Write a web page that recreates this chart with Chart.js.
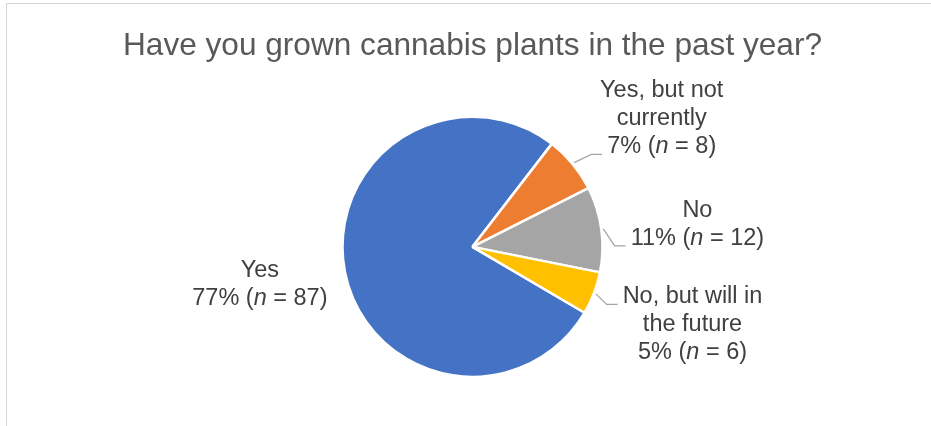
<!DOCTYPE html>
<html>
<head>
<meta charset="utf-8">
<script src="https://cdn.jsdelivr.net/npm/chart.js@4/dist/chart.umd.min.js"></script>
<style>
    html, body {
        margin: 0;
        padding: 0;
        background: #ffffff;
        overflow: hidden;
    }
    #frame {
        position: absolute;
        left: 6px;
        top: 3px;
        width: 1000px;
        height: 500px;
        border-left: 1px solid #d4d4d4;
        border-top: 1px solid #d4d4d4;
    }
    #wrap {
        position: absolute;
        left: 0;
        top: 0;
        width: 931px;
        height: 426px;
    }
</style>
</head>
<body>
<div id="frame"></div>
<div id="wrap"><canvas id="growChart"></canvas></div>
<script>
// 回答カテゴリ（ラベルは表示用に改行済み）
const categories = [
    ['Yes'],
    ['Yes, but not', 'currently'],
    ['No'],
    ['No, but will in', 'the future']
];
// 回答者数 (n)
const counts = [87, 8, 12, 6];
const sliceColors = ['#4472C4', '#ED7D31', '#A5A5A5', '#FFC000'];

// ラベル配置（円の中心からの相対位置、先頭行のベースライン）
// leader: 引き出し線をつなぐ行番号
const labelLayout = [
    { dx: -212.6, dy: 30.0, leader: null },
    { dx: 189.2, dy: -149.4, leader: 2 },
    { dx: 224.9, dy: -30.0, leader: 1 },
    { dx: 220.0, dy: 56.6, leader: 0 }
];

const FONT_FAMILY = '"Liberation Sans", Arial, sans-serif';
const LABEL_SIZE = 23.5;
const LINE_GAP = 28;

// パーセント行： "77% (" + 斜体 n + " = 87)"
function pctSegments(value, total) {
    const pct = Math.round(value / total * 100);
    return [
        { text: `${pct}% (`, italic: false },
        { text: 'n', italic: true },
        { text: ` = ${value})`, italic: false }
    ];
}

function fontFor(italic) {
    return `${italic ? 'italic ' : ''}${LABEL_SIZE}px ${FONT_FAMILY}`;
}

function measureSegments(ctx, segs) {
    let w = 0;
    segs.forEach(s => {
        ctx.font = fontFor(s.italic);
        w += ctx.measureText(s.text).width;
    });
    return w;
}

const sliceLabels = {
    id: 'sliceLabels',
    afterDatasetsDraw(chart) {
        const ctx = chart.ctx;
        const meta = chart.getDatasetMeta(0);
        const data = chart.data.datasets[0].data;
        const total = data.reduce((a, b) => a + b, 0);

        ctx.save();
        ctx.fillStyle = '#404040';
        ctx.textBaseline = 'alphabetic';
        ctx.textAlign = 'left';

        meta.data.forEach((arc, i) => {
            const { x, y, startAngle, endAngle, outerRadius } = arc.getProps(
                ['x', 'y', 'startAngle', 'endAngle', 'outerRadius'], true);
            const layout = labelLayout[i];
            const cx = x + layout.dx;
            const baseY = y + layout.dy;

            const lines = chart.data.labels[i].map(t => [{ text: t, italic: false }]);
            lines.push(pctSegments(data[i], total));

            const lefts = [];
            lines.forEach((segs, li) => {
                const w = measureSegments(ctx, segs);
                let px = cx - w / 2;
                lefts.push(px);
                const py = baseY + li * LINE_GAP;
                segs.forEach(s => {
                    ctx.font = fontFor(s.italic);
                    ctx.fillText(s.text, px, py);
                    px += ctx.measureText(s.text).width;
                });
            });

            // 引き出し線
            if (layout.leader !== null) {
                const mid = (startAngle + endAngle) / 2;
                const sx = x + (outerRadius + 2) * Math.cos(mid);
                const sy = y + (outerRadius + 2) * Math.sin(mid);
                const ex = lefts[layout.leader] - 5;
                const ey = baseY + layout.leader * LINE_GAP + 1;
                ctx.beginPath();
                ctx.moveTo(sx, sy);
                ctx.lineTo(ex - 11, ey);
                ctx.lineTo(ex, ey);
                ctx.strokeStyle = '#A6A6A6';
                ctx.lineWidth = 1.3;
                ctx.stroke();
            }
        });
        ctx.restore();
    }
};

const total = counts.reduce((a, b) => a + b, 0);
// 2番目のスライスが約37.6°から始まるように回転
const startDeg = 37.6 - counts[0] / total * 360;

const ctx = document.getElementById('growChart').getContext('2d');
const growChart = new Chart(ctx, {
    type: 'pie',
    data: {
        labels: categories,
        datasets: [{
            data: counts,
            backgroundColor: sliceColors,
            borderColor: '#ffffff',
            borderWidth: 2.5
        }]
    },
    options: {
        responsive: true,
        maintainAspectRatio: false,
        animation: false,
        rotation: startDeg,
        radius: 130,
        layout: {
            padding: { left: 14, right: 0, top: 0, bottom: 7.5 }
        },
        plugins: {
            title: {
                display: true,
                text: 'Have you grown cannabis plants in the past year?',
                color: '#595959',
                font: {
                    family: FONT_FAMILY,
                    size: 31.6,
                    weight: 'normal',
                    lineHeight: 1.2
                },
                padding: { top: 27.3, bottom: 10 }
            },
            legend: {
                display: false
            },
            tooltip: {
                enabled: false
            }
        }
    },
    plugins: [sliceLabels]
});
</script>
</body>
</html>
